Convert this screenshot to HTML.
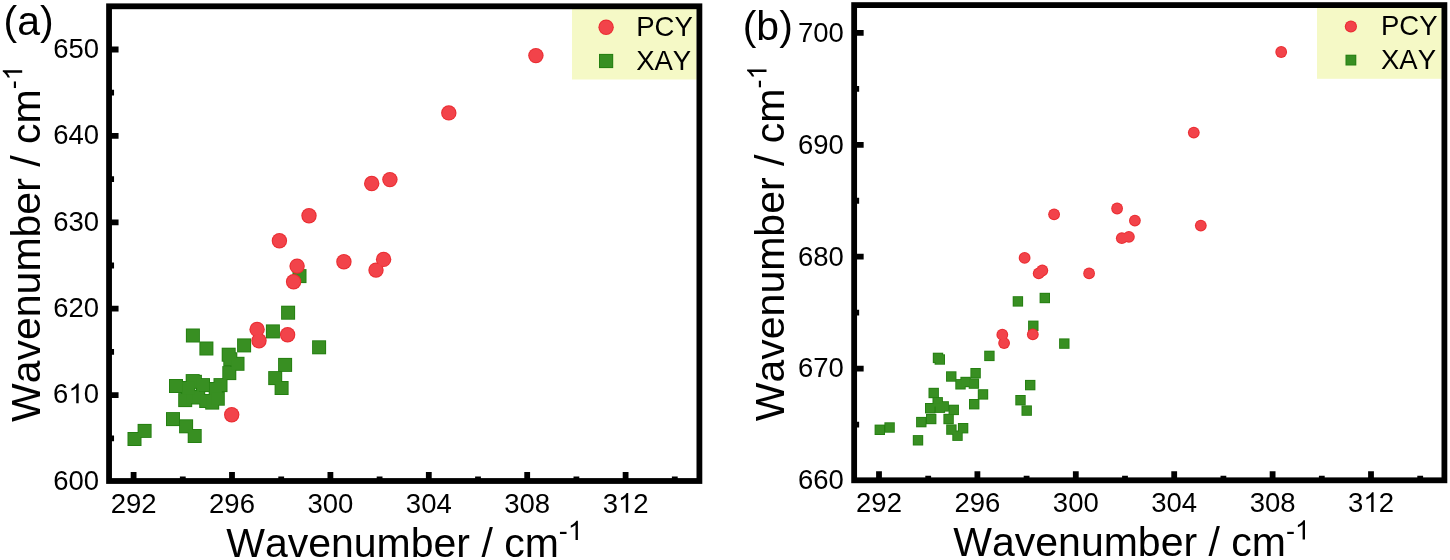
<!DOCTYPE html>
<html><head><meta charset="utf-8"><title>Wavenumber scatter plots</title><style>html,body{margin:0;padding:0;background:#fff;overflow:hidden}svg{display:block;will-change:transform}</style></head><body>
<svg width="1450" height="560" viewBox="0 0 1450 560">
<style>.t,.ti,.pl{font-family:"Liberation Sans", sans-serif;font-kerning:none;font-feature-settings:"kern" 0;fill:#000}.t{font-size:27.5px}.ti{font-size:41.0px}.pl{font-size:41.0px}.h{fill-opacity:0}.rf{fill:#f2434a}.re{fill:#ea2c31}.gf{fill:#388f22}.ge{fill:#237e10}</style>
<rect width="1450" height="560" fill="#fff"/>
<rect x="572" y="9" width="124.6" height="70.5" fill="#f5f9c6"/>
<rect x="1317" y="7.8" width="124.8" height="71" fill="#f5f9c6"/>
<rect x="127.5" y="432" width="14" height="14" class="ge"/>
<rect x="137.6" y="423.9" width="14" height="14" class="ge"/>
<rect x="166" y="412.1" width="14" height="14" class="ge"/>
<rect x="179.1" y="419.3" width="14" height="14" class="ge"/>
<rect x="187.7" y="429" width="14" height="14" class="ge"/>
<rect x="169" y="379" width="14" height="14" class="ge"/>
<rect x="185.7" y="374.1" width="14" height="14" class="ge"/>
<rect x="187.9" y="374.8" width="14" height="14" class="ge"/>
<rect x="196" y="378.1" width="14" height="14" class="ge"/>
<rect x="213.5" y="378.1" width="14" height="14" class="ge"/>
<rect x="178.2" y="393.1" width="14" height="14" class="ge"/>
<rect x="186" y="390" width="14" height="14" class="ge"/>
<rect x="191.2" y="390.5" width="14" height="14" class="ge"/>
<rect x="208.7" y="382" width="14" height="14" class="ge"/>
<rect x="199.2" y="394" width="14" height="14" class="ge"/>
<rect x="205.2" y="395.6" width="14" height="14" class="ge"/>
<rect x="210.8" y="391.7" width="14" height="14" class="ge"/>
<rect x="181.3" y="381" width="14" height="14" class="ge"/>
<rect x="222.3" y="366.1" width="14" height="14" class="ge"/>
<rect x="223.3" y="352.3" width="14" height="14" class="ge"/>
<rect x="230.5" y="356.8" width="14" height="14" class="ge"/>
<rect x="221.7" y="347.7" width="14" height="14" class="ge"/>
<rect x="199.4" y="341.5" width="14" height="14" class="ge"/>
<rect x="185.9" y="328.5" width="14" height="14" class="ge"/>
<rect x="237.1" y="338.4" width="14" height="14" class="ge"/>
<rect x="265.9" y="324.4" width="14" height="14" class="ge"/>
<rect x="281.1" y="305.7" width="14" height="14" class="ge"/>
<rect x="292.5" y="269.1" width="14" height="14" class="ge"/>
<rect x="312.1" y="340.3" width="14" height="14" class="ge"/>
<rect x="278.1" y="357.9" width="14" height="14" class="ge"/>
<rect x="268.2" y="371.1" width="14" height="14" class="ge"/>
<rect x="274.6" y="381" width="14" height="14" class="ge"/>
<rect x="128.4" y="432.9" width="12.2" height="12.2" class="gf"/>
<rect x="138.5" y="424.8" width="12.2" height="12.2" class="gf"/>
<rect x="166.9" y="413" width="12.2" height="12.2" class="gf"/>
<rect x="180" y="420.2" width="12.2" height="12.2" class="gf"/>
<rect x="188.6" y="429.9" width="12.2" height="12.2" class="gf"/>
<rect x="169.9" y="379.9" width="12.2" height="12.2" class="gf"/>
<rect x="186.6" y="375" width="12.2" height="12.2" class="gf"/>
<rect x="188.8" y="375.7" width="12.2" height="12.2" class="gf"/>
<rect x="196.9" y="379" width="12.2" height="12.2" class="gf"/>
<rect x="214.4" y="379" width="12.2" height="12.2" class="gf"/>
<rect x="179.1" y="394" width="12.2" height="12.2" class="gf"/>
<rect x="186.9" y="390.9" width="12.2" height="12.2" class="gf"/>
<rect x="192.1" y="391.4" width="12.2" height="12.2" class="gf"/>
<rect x="209.6" y="382.9" width="12.2" height="12.2" class="gf"/>
<rect x="200.1" y="394.9" width="12.2" height="12.2" class="gf"/>
<rect x="206.1" y="396.5" width="12.2" height="12.2" class="gf"/>
<rect x="211.7" y="392.6" width="12.2" height="12.2" class="gf"/>
<rect x="182.2" y="381.9" width="12.2" height="12.2" class="gf"/>
<rect x="223.2" y="367" width="12.2" height="12.2" class="gf"/>
<rect x="224.2" y="353.2" width="12.2" height="12.2" class="gf"/>
<rect x="231.4" y="357.7" width="12.2" height="12.2" class="gf"/>
<rect x="222.6" y="348.6" width="12.2" height="12.2" class="gf"/>
<rect x="200.3" y="342.4" width="12.2" height="12.2" class="gf"/>
<rect x="186.8" y="329.4" width="12.2" height="12.2" class="gf"/>
<rect x="238" y="339.3" width="12.2" height="12.2" class="gf"/>
<rect x="266.8" y="325.3" width="12.2" height="12.2" class="gf"/>
<rect x="282" y="306.6" width="12.2" height="12.2" class="gf"/>
<rect x="293.4" y="270" width="12.2" height="12.2" class="gf"/>
<rect x="313" y="341.2" width="12.2" height="12.2" class="gf"/>
<rect x="279" y="358.8" width="12.2" height="12.2" class="gf"/>
<rect x="269.1" y="372" width="12.2" height="12.2" class="gf"/>
<rect x="275.5" y="381.9" width="12.2" height="12.2" class="gf"/>
<circle cx="535.9" cy="55.6" r="7.7" class="re"/>
<circle cx="448.8" cy="112.9" r="7.7" class="re"/>
<circle cx="371.7" cy="183.5" r="7.7" class="re"/>
<circle cx="389.9" cy="179.6" r="7.7" class="re"/>
<circle cx="309" cy="215.7" r="7.7" class="re"/>
<circle cx="279.4" cy="240.7" r="7.7" class="re"/>
<circle cx="297.1" cy="266.1" r="7.7" class="re"/>
<circle cx="293.6" cy="281.8" r="7.7" class="re"/>
<circle cx="343.9" cy="261.8" r="7.7" class="re"/>
<circle cx="383.6" cy="259.4" r="7.7" class="re"/>
<circle cx="376" cy="270.1" r="7.7" class="re"/>
<circle cx="257.1" cy="329.4" r="7.7" class="re"/>
<circle cx="259" cy="340.7" r="7.7" class="re"/>
<circle cx="287.6" cy="334.7" r="7.7" class="re"/>
<circle cx="231.7" cy="414.8" r="7.7" class="re"/>
<circle cx="535.9" cy="55.6" r="6.7" class="rf"/>
<circle cx="448.8" cy="112.9" r="6.7" class="rf"/>
<circle cx="371.7" cy="183.5" r="6.7" class="rf"/>
<circle cx="389.9" cy="179.6" r="6.7" class="rf"/>
<circle cx="309" cy="215.7" r="6.7" class="rf"/>
<circle cx="279.4" cy="240.7" r="6.7" class="rf"/>
<circle cx="297.1" cy="266.1" r="6.7" class="rf"/>
<circle cx="293.6" cy="281.8" r="6.7" class="rf"/>
<circle cx="343.9" cy="261.8" r="6.7" class="rf"/>
<circle cx="383.6" cy="259.4" r="6.7" class="rf"/>
<circle cx="376" cy="270.1" r="6.7" class="rf"/>
<circle cx="257.1" cy="329.4" r="6.7" class="rf"/>
<circle cx="259" cy="340.7" r="6.7" class="rf"/>
<circle cx="287.6" cy="334.7" r="6.7" class="rf"/>
<circle cx="231.7" cy="414.8" r="6.7" class="rf"/>
<rect x="109.05" y="6.3" width="590.35" height="474.7" fill="none" stroke="#000" stroke-width="5.8"/>
<path d="M133.6 481V472M232 481V472M330.4 481V472M428.8 481V472M527.2 481V472M625.6 481V472M182.8 481V476.5M281.2 481V476.5M379.6 481V476.5M478 481V476.5M576.4 481V476.5M674.8 481V476.5M109.05 395.1H118.55M109.05 308.7H118.55M109.05 222.3H118.55M109.05 135.9H118.55M109.05 49.5H118.55M109.05 438.3H114.05M109.05 351.9H114.05M109.05 265.5H114.05M109.05 179.1H114.05M109.05 92.7H114.05" stroke="#000" stroke-width="5.8" fill="none"/>
<text transform="translate(133.6,512.7) scale(1,1.0)" text-anchor="middle" class="t">292</text>
<text transform="translate(232,512.7) scale(1,1.0)" text-anchor="middle" class="t">296</text>
<text transform="translate(330.4,512.7) scale(1,1.0)" text-anchor="middle" class="t">300</text>
<text transform="translate(428.8,512.7) scale(1,1.0)" text-anchor="middle" class="t">304</text>
<text transform="translate(527.2,512.7) scale(1,1.0)" text-anchor="middle" class="t">308</text>
<text transform="translate(625.6,512.7) scale(1,1.0)" text-anchor="middle" class="t">3<tspan class="h">1</tspan>2</text>
<path transform="translate(617.95,512.7) scale(0.01343,-0.01343)" d="M763 0H583V1147Q518 1085 412.5 1023Q307 961 223 930V1104Q374 1175 487 1276Q600 1377 647 1472H763Z"/>
<text transform="translate(99,489.7) scale(1,1.035)" text-anchor="end" class="t">600</text>
<text transform="translate(99,403.3) scale(1,1.035)" text-anchor="end" class="t">6<tspan class="h">1</tspan>0</text>
<path transform="translate(68.41,403.3) scale(0.01343,-0.01343)" d="M763 0H583V1147Q518 1085 412.5 1023Q307 961 223 930V1104Q374 1175 487 1276Q600 1377 647 1472H763Z"/>
<text transform="translate(99,316.9) scale(1,1.035)" text-anchor="end" class="t">620</text>
<text transform="translate(99,230.5) scale(1,1.035)" text-anchor="end" class="t">630</text>
<text transform="translate(99,144.1) scale(1,1.035)" text-anchor="end" class="t">640</text>
<text transform="translate(99,57.7) scale(1,1.035)" text-anchor="end" class="t">650</text>
<rect x="874.6" y="424.6" width="10.4" height="10.4" class="ge"/>
<rect x="884.4" y="422.3" width="10.4" height="10.4" class="ge"/>
<rect x="912.8" y="435.1" width="10.4" height="10.4" class="ge"/>
<rect x="916.1" y="416.9" width="10.4" height="10.4" class="ge"/>
<rect x="926" y="413.8" width="10.4" height="10.4" class="ge"/>
<rect x="928.5" y="387.8" width="10.4" height="10.4" class="ge"/>
<rect x="932.5" y="397.1" width="10.4" height="10.4" class="ge"/>
<rect x="938.5" y="401.2" width="10.4" height="10.4" class="ge"/>
<rect x="925" y="403" width="10.4" height="10.4" class="ge"/>
<rect x="934.7" y="402.5" width="10.4" height="10.4" class="ge"/>
<rect x="948.55" y="404.7" width="10.4" height="10.4" class="ge"/>
<rect x="943.4" y="413.8" width="10.4" height="10.4" class="ge"/>
<rect x="946.2" y="424.4" width="10.4" height="10.4" class="ge"/>
<rect x="952.3" y="430.5" width="10.4" height="10.4" class="ge"/>
<rect x="957.9" y="423" width="10.4" height="10.4" class="ge"/>
<rect x="932.8" y="352.7" width="10.4" height="10.4" class="ge"/>
<rect x="934.6" y="354.3" width="10.4" height="10.4" class="ge"/>
<rect x="946.05" y="371.3" width="10.4" height="10.4" class="ge"/>
<rect x="955.3" y="379.1" width="10.4" height="10.4" class="ge"/>
<rect x="960.4" y="376.8" width="10.4" height="10.4" class="ge"/>
<rect x="968.7" y="378.4" width="10.4" height="10.4" class="ge"/>
<rect x="970.4" y="368" width="10.4" height="10.4" class="ge"/>
<rect x="977.8" y="389.2" width="10.4" height="10.4" class="ge"/>
<rect x="969" y="399" width="10.4" height="10.4" class="ge"/>
<rect x="984.2" y="350.7" width="10.4" height="10.4" class="ge"/>
<rect x="1012.7" y="296.2" width="10.4" height="10.4" class="ge"/>
<rect x="1039.6" y="292.8" width="10.4" height="10.4" class="ge"/>
<rect x="1028.1" y="320.6" width="10.4" height="10.4" class="ge"/>
<rect x="1059.1" y="338.4" width="10.4" height="10.4" class="ge"/>
<rect x="1025" y="379.9" width="10.4" height="10.4" class="ge"/>
<rect x="1015.3" y="395" width="10.4" height="10.4" class="ge"/>
<rect x="1021.5" y="405.4" width="10.4" height="10.4" class="ge"/>
<rect x="875.5" y="425.5" width="8.6" height="8.6" class="gf"/>
<rect x="885.3" y="423.2" width="8.6" height="8.6" class="gf"/>
<rect x="913.7" y="436" width="8.6" height="8.6" class="gf"/>
<rect x="917" y="417.8" width="8.6" height="8.6" class="gf"/>
<rect x="926.9" y="414.7" width="8.6" height="8.6" class="gf"/>
<rect x="929.4" y="388.7" width="8.6" height="8.6" class="gf"/>
<rect x="933.4" y="398" width="8.6" height="8.6" class="gf"/>
<rect x="939.4" y="402.1" width="8.6" height="8.6" class="gf"/>
<rect x="925.9" y="403.9" width="8.6" height="8.6" class="gf"/>
<rect x="935.6" y="403.4" width="8.6" height="8.6" class="gf"/>
<rect x="949.45" y="405.6" width="8.6" height="8.6" class="gf"/>
<rect x="944.3" y="414.7" width="8.6" height="8.6" class="gf"/>
<rect x="947.1" y="425.3" width="8.6" height="8.6" class="gf"/>
<rect x="953.2" y="431.4" width="8.6" height="8.6" class="gf"/>
<rect x="958.8" y="423.9" width="8.6" height="8.6" class="gf"/>
<rect x="933.7" y="353.6" width="8.6" height="8.6" class="gf"/>
<rect x="935.5" y="355.2" width="8.6" height="8.6" class="gf"/>
<rect x="946.95" y="372.2" width="8.6" height="8.6" class="gf"/>
<rect x="956.2" y="380" width="8.6" height="8.6" class="gf"/>
<rect x="961.3" y="377.7" width="8.6" height="8.6" class="gf"/>
<rect x="969.6" y="379.3" width="8.6" height="8.6" class="gf"/>
<rect x="971.3" y="368.9" width="8.6" height="8.6" class="gf"/>
<rect x="978.7" y="390.1" width="8.6" height="8.6" class="gf"/>
<rect x="969.9" y="399.9" width="8.6" height="8.6" class="gf"/>
<rect x="985.1" y="351.6" width="8.6" height="8.6" class="gf"/>
<rect x="1013.6" y="297.1" width="8.6" height="8.6" class="gf"/>
<rect x="1040.5" y="293.7" width="8.6" height="8.6" class="gf"/>
<rect x="1029" y="321.5" width="8.6" height="8.6" class="gf"/>
<rect x="1060" y="339.3" width="8.6" height="8.6" class="gf"/>
<rect x="1025.9" y="380.8" width="8.6" height="8.6" class="gf"/>
<rect x="1016.2" y="395.9" width="8.6" height="8.6" class="gf"/>
<rect x="1022.4" y="406.3" width="8.6" height="8.6" class="gf"/>
<circle cx="1281.2" cy="52" r="5.9" class="re"/>
<circle cx="1193.8" cy="132.6" r="5.9" class="re"/>
<circle cx="1117.1" cy="208.5" r="5.9" class="re"/>
<circle cx="1134.9" cy="220.6" r="5.9" class="re"/>
<circle cx="1121.8" cy="238.2" r="5.9" class="re"/>
<circle cx="1128.9" cy="236.8" r="5.9" class="re"/>
<circle cx="1200.8" cy="225.6" r="5.9" class="re"/>
<circle cx="1054.1" cy="214.3" r="5.9" class="re"/>
<circle cx="1089.1" cy="273.4" r="5.9" class="re"/>
<circle cx="1024.6" cy="257.9" r="5.9" class="re"/>
<circle cx="1042.3" cy="270.5" r="5.9" class="re"/>
<circle cx="1038.7" cy="273.4" r="5.9" class="re"/>
<circle cx="1002.3" cy="334.7" r="5.9" class="re"/>
<circle cx="1004.1" cy="343.1" r="5.9" class="re"/>
<circle cx="1032.8" cy="334.4" r="5.9" class="re"/>
<circle cx="1281.2" cy="52" r="4.9" class="rf"/>
<circle cx="1193.8" cy="132.6" r="4.9" class="rf"/>
<circle cx="1117.1" cy="208.5" r="4.9" class="rf"/>
<circle cx="1134.9" cy="220.6" r="4.9" class="rf"/>
<circle cx="1121.8" cy="238.2" r="4.9" class="rf"/>
<circle cx="1128.9" cy="236.8" r="4.9" class="rf"/>
<circle cx="1200.8" cy="225.6" r="4.9" class="rf"/>
<circle cx="1054.1" cy="214.3" r="4.9" class="rf"/>
<circle cx="1089.1" cy="273.4" r="4.9" class="rf"/>
<circle cx="1024.6" cy="257.9" r="4.9" class="rf"/>
<circle cx="1042.3" cy="270.5" r="4.9" class="rf"/>
<circle cx="1038.7" cy="273.4" r="4.9" class="rf"/>
<circle cx="1002.3" cy="334.7" r="4.9" class="rf"/>
<circle cx="1004.1" cy="343.1" r="4.9" class="rf"/>
<circle cx="1032.8" cy="334.4" r="4.9" class="rf"/>
<rect x="854.15" y="5.1" width="590.25" height="475.2" fill="none" stroke="#000" stroke-width="5.8"/>
<path d="M879 480.3V471.3M977.4 480.3V471.3M1075.8 480.3V471.3M1174.2 480.3V471.3M1272.6 480.3V471.3M1371 480.3V471.3M928.2 480.3V475.8M1026.6 480.3V475.8M1125 480.3V475.8M1223.4 480.3V475.8M1321.8 480.3V475.8M1420.2 480.3V475.8M854.15 368.6H863.65M854.15 256.7H863.65M854.15 144.8H863.65M854.15 32.9H863.65M854.15 424.55H859.15M854.15 312.65H859.15M854.15 200.75H859.15M854.15 88.85H859.15" stroke="#000" stroke-width="5.8" fill="none"/>
<text transform="translate(879,512.1) scale(1,1.0)" text-anchor="middle" class="t">292</text>
<text transform="translate(977.4,512.1) scale(1,1.0)" text-anchor="middle" class="t">296</text>
<text transform="translate(1075.8,512.1) scale(1,1.0)" text-anchor="middle" class="t">300</text>
<text transform="translate(1174.2,512.1) scale(1,1.0)" text-anchor="middle" class="t">304</text>
<text transform="translate(1272.6,512.1) scale(1,1.0)" text-anchor="middle" class="t">308</text>
<text transform="translate(1371,512.1) scale(1,1.0)" text-anchor="middle" class="t">3<tspan class="h">1</tspan>2</text>
<path transform="translate(1363.35,512.1) scale(0.01343,-0.01343)" d="M763 0H583V1147Q518 1085 412.5 1023Q307 961 223 930V1104Q374 1175 487 1276Q600 1377 647 1472H763Z"/>
<text transform="translate(843.9,489.3) scale(1,1.035)" text-anchor="end" class="t">660</text>
<text transform="translate(843.9,377.4) scale(1,1.035)" text-anchor="end" class="t">670</text>
<text transform="translate(843.9,265.5) scale(1,1.035)" text-anchor="end" class="t">680</text>
<text transform="translate(843.9,153.6) scale(1,1.035)" text-anchor="end" class="t">690</text>
<text transform="translate(843.9,41.7) scale(1,1.035)" text-anchor="end" class="t">700</text>
<circle cx="606.1" cy="27.3" r="7.7" class="re"/>
<circle cx="606.1" cy="27.3" r="6.7" class="rf"/>
<rect x="599" y="53.9" width="14.2" height="14.2" class="ge"/>
<rect x="599.9" y="54.8" width="12.4" height="12.4" class="gf"/>
<text x="636.2" y="35.9" class="t">PCY</text>
<text x="636.2" y="70.4" class="t">XAY</text>
<circle cx="1350.9" cy="26.5" r="6.1" class="re"/>
<circle cx="1350.9" cy="26.5" r="5.1" class="rf"/>
<rect x="1345.5" y="54.7" width="10.8" height="10.8" class="ge"/>
<rect x="1346.4" y="55.6" width="9" height="9" class="gf"/>
<text x="1381" y="35" class="t">PCY</text>
<text x="1381" y="69.1" class="t">XAY</text>
<text x="3.6" y="34.5" class="pl">(a)</text>
<text x="742.7" y="40.2" class="pl">(b)</text>
<g transform="translate(226.2,556.7)">
<text x="0" y="0" class="ti">Wavenumber / cm<tspan dy="-16.6" font-size="27.0px">-<tspan class="h">1</tspan></tspan></text>
<path transform="translate(341.64,-16.6) scale(0.01318,-0.01318)" d="M763 0H583V1147Q518 1085 412.5 1023Q307 961 223 930V1104Q374 1175 487 1276Q600 1377 647 1472H763Z"/>
</g>
<g transform="translate(953.3,556.2)">
<text x="0" y="0" class="ti">Wavenumber / cm<tspan dy="-16.6" font-size="27.0px">-<tspan class="h">1</tspan></tspan></text>
<path transform="translate(341.64,-16.6) scale(0.01318,-0.01318)" d="M763 0H583V1147Q518 1085 412.5 1023Q307 961 223 930V1104Q374 1175 487 1276Q600 1377 647 1472H763Z"/>
</g>
<g transform="translate(39.7,422) rotate(-90)">
<text x="0" y="0" class="ti">Wavenumber / cm<tspan dy="-17.5" font-size="27.0px">-<tspan class="h">1</tspan></tspan></text>
<path transform="translate(341.64,-17.5) scale(0.01318,-0.01318)" d="M763 0H583V1147Q518 1085 412.5 1023Q307 961 223 930V1104Q374 1175 487 1276Q600 1377 647 1472H763Z"/>
</g>
<g transform="translate(784,421.2) rotate(-90)">
<text x="0" y="0" class="ti">Wavenumber / cm<tspan dy="-17.5" font-size="27.0px">-<tspan class="h">1</tspan></tspan></text>
<path transform="translate(341.64,-17.5) scale(0.01318,-0.01318)" d="M763 0H583V1147Q518 1085 412.5 1023Q307 961 223 930V1104Q374 1175 487 1276Q600 1377 647 1472H763Z"/>
</g>
</svg>
</body></html>
